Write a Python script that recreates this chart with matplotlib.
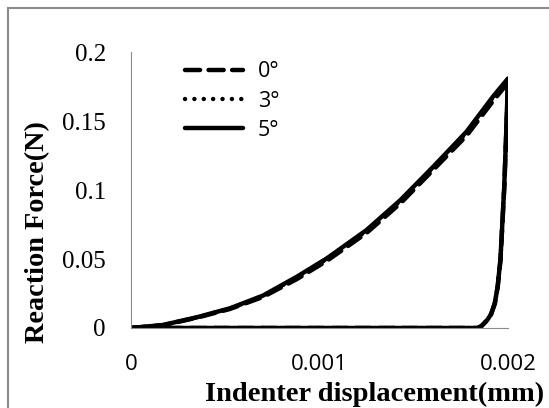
#reaction force vs indenter displacement, three tilt angles
import matplotlib.pyplot as plt
from matplotlib.patches import Rectangle

# displacement (mm): loading up to 0.002 then unloading back to 0
disp = [0, 0.00017, 0.00035, 0.000525, 0.0007, 0.00088, 0.00104, 0.00125,
        0.00143, 0.0016, 0.00178, 0.00192, 0.002,
        0.00199, 0.00198, 0.00196, 0.001945, 0.00193, 0.00191, 0.00189,
        0.00186, 0.00184, 0]

# reaction force (N)
force_0 = [0, 0.002, 0.0075, 0.0138, 0.0225, 0.0355, 0.0488, 0.069,
           0.0905, 0.1142, 0.1395, 0.1645, 0.178,
           0.138, 0.101, 0.049, 0.0295, 0.0177, 0.0098, 0.0057,
           0.0015, 0, 0]
force_3 = [0, 0.0021, 0.0077, 0.0141, 0.0232, 0.0368, 0.0502, 0.0706,
           0.0924, 0.1162, 0.1418, 0.1672, 0.1805,
           0.1395, 0.1022, 0.0498, 0.0299, 0.0179, 0.01, 0.0058,
           0.0015, 0, 0]
force_5 = [0, 0.0022, 0.0078, 0.0143, 0.0235, 0.0372, 0.0506, 0.0711,
           0.0929, 0.1165, 0.1424, 0.1678, 0.181,
           0.14, 0.1025, 0.05, 0.03, 0.018, 0.01, 0.0058,
           0.0015, 0, 0]

labels = ['0°', '3°', '5°']
xticks = [0, 0.001, 0.002]
yticks = [0, 0.05, 0.1, 0.15, 0.2]

fig = plt.figure(figsize=(5.49, 4.08), dpi=100)
ax = fig.add_axes([131/549, 1-328/408, 377/549, 275.7/408])

lw = 3.2
ax.plot(disp, force_0, color='black', lw=lw, dashes=(3.4, 1.9),
        dash_capstyle='round', label=labels[0])
ax.plot(disp, force_3, color='black', lw=lw, dashes=(0.01, 2.1),
        dash_capstyle='round', label=labels[1])
ax.plot(disp, force_5, color='black', lw=lw, solid_capstyle='round',
        label=labels[2])

ax.set_xlim(0, 0.002)
ax.set_ylim(0, 0.2)
ax.set_xticks(xticks)
ax.set_xticklabels(['0', '0.001', '0.002'], family='Open Sans', fontsize=16)
ax.set_yticks(yticks)
ax.set_yticklabels(['0', '0.05', '0.1', '0.15', '0.2'],
                   family='Liberation Serif', fontsize=18)
ax.tick_params(axis='x', length=0, pad=19)
ax.tick_params(axis='y', length=0, pad=18)
for s in ['top', 'right']:
    ax.spines[s].set_visible(False)
for s in ['left', 'bottom']:
    ax.spines[s].set_color('#8a8a8a')
    ax.spines[s].set_linewidth(0.8)
ax.set_clip_on(False)

fig.text(375/549, 7/408, 'Indenter displacement(mm)', family='Liberation Serif',
         fontweight='bold', fontsize=20.5, ha='center', va='baseline')
fig.text(38/549, 1-232/408, 'Reaction Force(N)', family='Liberation Serif',
         fontweight='bold', fontsize=20.3, ha='center', va='center', rotation=90)

leg = ax.legend(loc='upper left', bbox_to_anchor=(0.142, 0.967), frameon=False,
                prop={'family': 'Open Sans', 'size': 15.5}, handlelength=2.7,
                handletextpad=0.7, labelspacing=0.38, borderpad=0, borderaxespad=0)

# outer chart border
fig.patches.append(Rectangle((8/549, -0.1), 1.2, 1-8/408+0.1, transform=fig.transFigure,
                             fill=False, ec='#8c8c8c', lw=1.5))

fig.savefig('out.png', dpi=100)
